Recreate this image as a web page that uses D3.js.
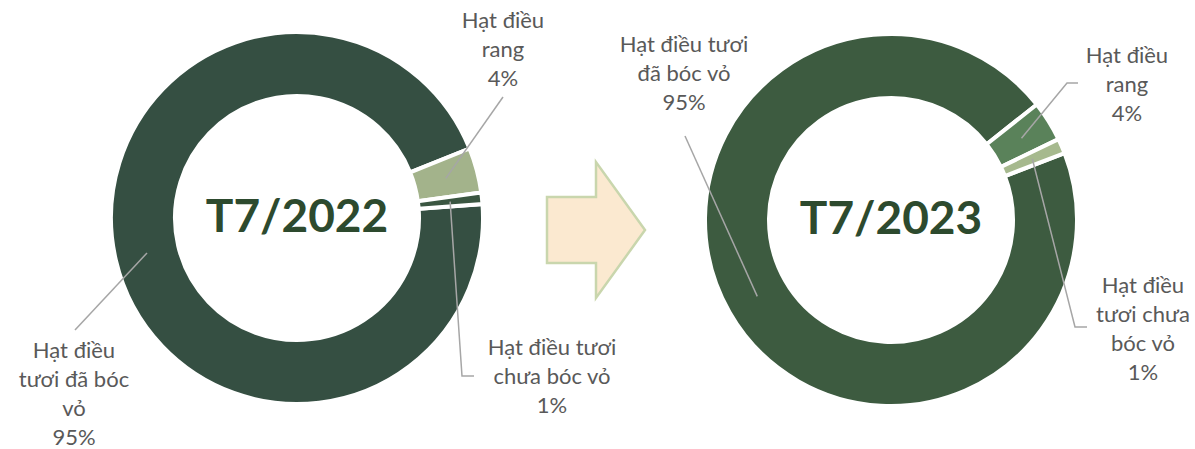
<!DOCTYPE html>
<html>
<head>
<meta charset="utf-8">
<script src="https://cdn.jsdelivr.net/npm/d3@7"></script>
<style>
  body { margin: 0; background: #fff; }
  text { font-family: Lato, "Noto Sans", sans-serif; }
</style>
</head>
<body>
<script>
// data
var categories = ["Hạt điều tươi đã bóc vỏ", "Hạt điều rang", "Hạt điều tươi chưa bóc vỏ"]
var periods = ["T7/2022", "T7/2023"]
var values2022 = [95.1, 3.9, 1.0]
var values2023 = [95.2, 3.5, 1.3]
var labelLines2022 = [["Hạt điều", "tươi đã bóc", "vỏ"], ["Hạt điều", "rang"], ["Hạt điều tươi", "chưa bóc vỏ"]]
var labelLines2023 = [["Hạt điều tươi", "đã bóc vỏ"], ["Hạt điều", "rang"], ["Hạt điều", "tươi chưa", "bóc vỏ"]]
var colors2022 = ["#354f42", "#a3b38b", "#3a5641"]
var colors2023 = ["#3d5b40", "#5a825a", "#a6b98e"]

var width = 1195, height = 449
var svg = d3.select("body").append("svg")
  .attr("width", width)
  .attr("height", height)

var rad = Math.PI / 180

// layout of each donut and its labels
var donuts = [
  {
    period: periods[0], values: values2022, lines: labelLines2022, colors: colors2022,
    cx: 297, cy: 218, start: 85.7,
    labels: [
      {x: 74, y: 358, path: [[75, 330]]},
      {x: 503, y: 28, path: [[503, 97]]},
      {x: 552, y: 355, path: [[462, 376], [474, 376]]}
    ]
  },
  {
    period: periods[1], values: values2023, lines: labelLines2023, colors: colors2023,
    cx: 891, cy: 220, start: 68.9,
    labels: [
      {x: 684, y: 52, path: [[685, 136]]},
      {x: 1127, y: 63, path: [[1067, 83], [1078, 83]]},
      {x: 1143, y: 293, path: [[1075, 327], [1087, 327]]}
    ]
  }
]

var outerR = 186, innerR = 122
var arc = d3.arc().innerRadius(innerR).outerRadius(outerR)
var midArc = d3.arc().innerRadius((innerR + outerR) / 2).outerRadius((innerR + outerR) / 2)

donuts.forEach(function(dn) {
  var pie = d3.pie().sort(null).value(function(d) { return d })
    .startAngle(dn.start * rad).endAngle(dn.start * rad + 2 * Math.PI)
  var arcs = pie(dn.values)

  var g = svg.append("g").attr("transform", "translate(" + dn.cx + "," + dn.cy + ")")
  g.selectAll("path.slice")
    .data(arcs)
    .enter()
    .append("path")
    .attr("class", "slice")
    .attr("d", arc)
    .attr("fill", function(d, i) { return dn.colors[i] })
    .attr("stroke", "#fff")
    .attr("stroke-width", 4)

  // leader lines
  var line = d3.line()
  arcs.forEach(function(a, i) {
    var c = midArc.centroid(a)
    var pts = [[dn.cx + c[0], dn.cy + c[1]]].concat(dn.labels[i].path)
    svg.append("path")
      .attr("d", line(pts))
      .attr("fill", "none")
      .attr("stroke", "#a6a6a6")
      .attr("stroke-width", 1.5)
  })

  // data labels
  arcs.forEach(function(a, i) {
    var lb = dn.labels[i]
    var rows = dn.lines[i].concat([Math.round(a.data) + "%"])
    var t = svg.append("text")
      .attr("text-anchor", "middle")
      .attr("fill", "#595959")
      .style("font-size", "22px")
    t.selectAll("tspan")
      .data(rows)
      .enter()
      .append("tspan")
      .attr("x", lb.x)
      .attr("y", function(d, k) { return lb.y + k * 29 })
      .text(function(d) { return d })
  })

  // center title
  g.append("text")
    .attr("text-anchor", "middle")
    .attr("y", 14)
    .attr("fill", "#2d4a2e")
    .style("font-size", "46px")
    .style("font-weight", "bold")
    .text(dn.period)
})

// arrow between the two donuts
var ax = 547, ay = 230
var arrow = d3.path()
arrow.moveTo(ax, ay - 33)
arrow.lineTo(ax + 49, ay - 33)
arrow.lineTo(ax + 49, ay - 68)
arrow.lineTo(ax + 98, ay)
arrow.lineTo(ax + 49, ay + 68)
arrow.lineTo(ax + 49, ay + 33)
arrow.lineTo(ax, ay + 33)
arrow.closePath()
svg.append("path")
  .attr("d", arrow.toString())
  .attr("fill", "#fbe9d0")
  .attr("stroke", "#c9d6ad")
  .attr("stroke-width", 2.5)
</script>
</body>
</html>
